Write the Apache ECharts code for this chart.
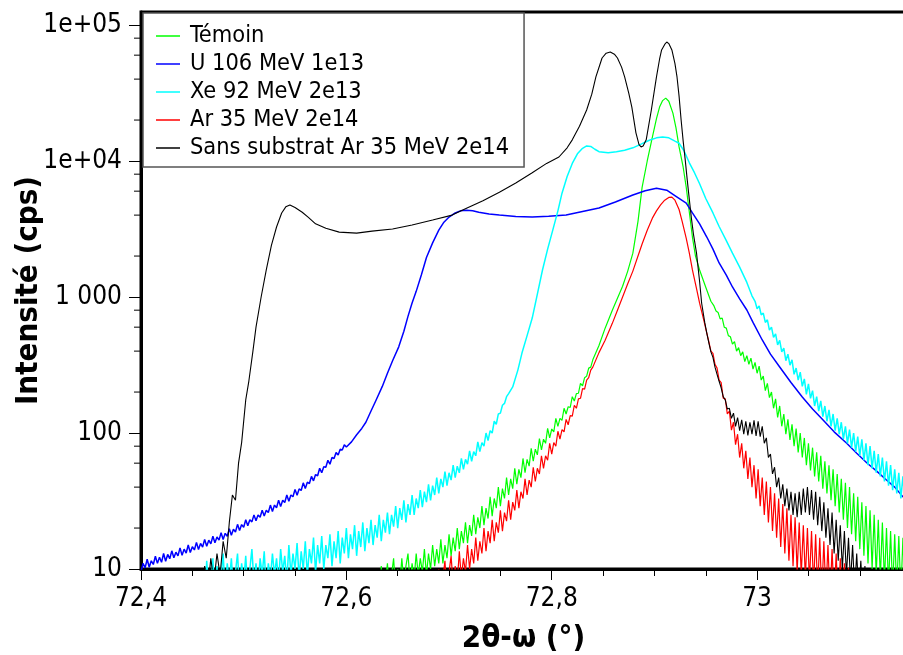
<!DOCTYPE html>
<html><head><meta charset="utf-8">
<script src="https://cdn.jsdelivr.net/npm/echarts@6/dist/echarts.min.js"></script>
<style>html,body{margin:0;padding:0;background:#fff}#chart{width:903px;height:655px}</style>
</head><body><div id="chart"></div>
<script>
const seriesNames = ['Témoin', 'U 106 MeV 1e13', 'Xe 92 MeV 2e13', 'Ar 35 MeV 2e14', 'Sans substrat Ar 35 MeV 2e14'];
const seriesColors = ['#00ff00', '#0000ff', '#00ffff', '#ff0000', '#000000'];
const xTickLabels = ['72,4', '72,6', '72,8', '73'];
const yTickLabels = ['10', '100', '1 000', '1e+04', '1e+05'];
const yMinorTickValues = [20,40,60,80,200,400,600,800,2000,4000,6000,8000,20000,40000,60000,80000];

const temoin = [
[72.632,5],[72.634,10.5],[72.636,6],[72.638,8],[72.640,11],[72.642,6.5],[72.644,9],[72.646,12],[72.648,7],[72.650,10],[72.652,7.5],[72.654,12],[72.656,8],[72.658,10.5],[72.660,13],[72.662,8],[72.664,11],[72.666,8.5],[72.668,13],[72.670,9],[72.672,12],[72.674,9.5],[72.676,14],[72.678,9],[72.680,13],[72.682,10],[72.684,15],[72.686,10.5],[72.688,14],[72.690,11],[72.692,16.5],[72.694,11],[72.696,15],[72.698,12],[72.700,18],[72.702,12.5],[72.704,17],[72.706,13.5],[72.708,20],[72.710,14],[72.712,19],[72.714,15.5],[72.716,22],[72.718,15.5],[72.720,21],[72.722,17.5],[72.724,25],[72.726,18],[72.728,24],[72.730,20],[72.732,29],[72.734,21],[72.736,28],[72.738,23.5],[72.740,34],[72.742,24.5],[72.744,33],[72.746,28],[72.748,40],[72.750,29],[72.752,39],[72.754,33],[72.756,47],[72.758,35],[72.760,46],[72.762,39],[72.764,55],[72.766,42],[72.768,54],[72.770,47],[72.772,65],[72.774,51],[72.776,64],[72.778,57],[72.780,77],[72.782,62],[72.784,76],[72.786,69],[72.788,91],[72.790,75],[72.792,90],[72.794,84],[72.796,108],[72.798,92],[72.800,107],[72.802,102],[72.804,128],[72.806,112],[72.808,128],[72.810,124],[72.812,152],[72.814,138],[72.816,156],[72.818,154],[72.820,185],[72.822,172],[72.824,195],[72.826,196],[72.828,232],[72.830,222],[72.832,255],[72.834,262],[72.836,300],[72.838,305],[72.840,345],
[72.846,440],[72.852,590],[72.859,800],[72.864,980],[72.869,1200],[72.874,1550],[72.879,2100],[72.884,3600],[72.888,6400],[72.893,10000],[72.898,15000],[72.902,20500],[72.905,24900],[72.908,27800],[72.911,29000],[72.914,27500],[72.918,22500],[72.921,17500],[72.924,12700],[72.928,9000],[72.931,6400],[72.934,4200],[72.937,2760],[72.940,2000],[72.944,1580],[72.950,1180],[72.955,930],
[72.958,860],[72.960,790],[72.962,770],[72.964,690],[72.966,700],[72.968,600],[72.970,590],[72.972,520],[72.974,510],[72.976,450],[72.978,470],[72.980,400],[72.982,425],[72.984,370],[72.986,395],[72.988,335],[72.990,370],[72.992,320],[72.994,355],[72.996,295],[72.998,330],[73.000,275],[73.002,310],[73.004,245],[73.006,262],[73.008,205],[73.010,232],[73.012,182],[73.014,200],[73.016,152],[73.018,178],[73.020,130],[73.022,158],[73.024,112],[73.026,138],[73.028,98],[73.030,126],[73.032,89],[73.034,116],[73.036,80],[73.038,108],[73.040,72],[73.042,100],[73.044,66],[73.046,92],[73.048,58],[73.050,84],[73.052,53],[73.054,78],[73.056,48],[73.058,72],[73.060,44],[73.062,68],[73.064,39],[73.066,62],[73.068,36],[73.070,58],[73.072,32],[73.074,54],[73.076,29],[73.078,50],[73.080,26],[73.082,46],[73.084,23],[73.086,43],[73.088,20],[73.090,40],[73.092,18],[73.094,36],[73.096,16],[73.098,34],[73.100,14],[73.102,31],[73.104,12.5],[73.106,29],[73.108,11],[73.110,27],[73.112,10],[73.114,25],[73.116,9],[73.118,23],[73.120,8.5],[73.122,22],[73.124,8],[73.126,20],[73.128,7.5],[73.130,19],[73.132,7],[73.134,18],[73.136,7],[73.138,17.5],[73.140,6.5],[73.142,17],[73.144,6.5],[73.146,16],[73.148,6]
];

const u106 = [
[72.400,9.5],[72.402,11],[72.404,10.2],[72.406,11.8],[72.408,10.3],[72.410,11.5],[72.412,10.8],[72.414,12.4],[72.416,11],[72.418,12.2],[72.420,11.2],[72.422,13],[72.424,11.4],[72.426,12.8],[72.428,11.9],[72.430,13.6],[72.432,12.1],[72.434,13.3],[72.436,12.5],[72.438,14.3],[72.440,12.6],[72.442,14],[72.444,13.1],[72.446,15],[72.448,13.2],[72.450,14.6],[72.452,13.8],[72.454,15.7],[72.456,13.9],[72.458,15.4],[72.460,14.5],[72.462,16.5],[72.464,14.7],[72.466,16.3],[72.468,15.3],[72.470,17.4],[72.472,15.6],[72.474,17.2],[72.476,16.3],[72.478,18.5],[72.480,16.5],[72.482,18.3],[72.484,17.4],[72.486,19.8],[72.488,17.7],[72.490,19.6],[72.492,18.7],[72.494,21.3],[72.496,19.2],[72.498,21.2],[72.500,20.3],[72.502,23],[72.504,20.8],[72.506,23],[72.508,22.2],[72.510,25],[72.512,22.6],[72.514,25],[72.516,24],[72.518,27],[72.520,24.5],[72.522,27],[72.524,26],[72.526,29.5],[72.528,26.5],[72.530,29.5],[72.532,28.2],[72.534,32],[72.536,28.8],[72.538,32],[72.540,30.8],[72.542,35],[72.544,31.5],[72.546,35],[72.548,34],[72.550,38.5],[72.552,34.8],[72.554,38.8],[72.556,37.8],[72.558,43],[72.560,39],[72.562,43.5],[72.564,42.5],[72.566,48],[72.568,44.5],[72.570,49.5],[72.572,48.5],[72.574,55],[72.576,51],[72.578,56.5],[72.580,56],[72.582,63],[72.584,59],[72.586,66],[72.588,65],[72.590,72],[72.592,69],[72.594,76],[72.596,75],[72.598,82],[72.600,79],
[72.605,86],[72.610,97],[72.615,108],[72.619,120],[72.624,145],[72.629,175],[72.635,220],[72.640,275],[72.645,340],[72.651,430],[72.656,560],[72.660,720],[72.664,903],[72.668,1100],[72.673,1450],[72.678,1950],[72.684,2500],[72.690,3100],[72.695,3550],[72.700,3870],[72.706,4150],[72.711,4300],[72.717,4350],[72.723,4300],[72.729,4200],[72.739,4080],[72.749,4000],[72.765,3900],[72.781,3870],[72.797,3920],[72.814,4010],[72.830,4250],[72.846,4510],[72.862,5000],[72.879,5620],[72.891,6050],[72.902,6300],[72.912,6100],[72.921,5500],[72.931,4900],[72.937,4150],[72.944,3450],[72.951,2760],[72.957,2250],[72.963,1780],[72.970,1450],[72.976,1185],[72.983,970],[72.990,802],[72.996,650],[73.005,483],[73.013,380],[73.022,306],[73.033,235],[73.044,184],[73.054,150],[73.064,125],[73.075,102],[73.087,84.4],[73.097,71],[73.107,60.2],[73.117,52],[73.126,45.1],[73.134,40],[73.142,34],[73.148,32]
];

const xe92 = [
[72.458,5],[72.460,9],[72.462,6],[72.464,11.5],[72.466,7],[72.468,8],[72.470,12],[72.472,6],[72.474,10.5],[72.476,7],[72.478,9],[72.480,13],[72.482,6.5],[72.484,11],[72.486,8],[72.488,12],[72.490,7],[72.492,9.5],[72.494,13],[72.496,7],[72.498,11],[72.500,8],[72.502,12.5],[72.504,7],[72.506,10],[72.508,14],[72.510,8],[72.512,11],[72.514,7.5],[72.516,12],[72.518,9],[72.520,13.5],[72.522,7],[72.524,11],[72.526,8.5],[72.528,13],[72.530,9],[72.532,12],[72.534,8],[72.536,14],[72.538,9.5],[72.540,12.5],[72.542,8],[72.544,15],[72.546,9],[72.548,13],[72.550,10],[72.552,15.5],[72.554,8.5],[72.556,13.5],[72.558,10],[72.560,16],[72.562,9],[72.564,14],[72.566,11],[72.568,17],[72.570,9.5],[72.572,15],[72.574,11],[72.576,17.5],[72.578,10],[72.580,15],[72.582,12],[72.584,18],[72.586,10.5],[72.588,16],[72.590,12],[72.592,19],[72.594,11],[72.596,17],[72.598,13],[72.600,20],[72.602,12],[72.604,18],[72.606,14],[72.608,21],[72.610,12.5],[72.612,19],[72.614,14.5],[72.616,22],[72.618,13.5],[72.620,20],[72.622,15.5],[72.624,23],[72.626,15],[72.628,21],[72.630,17],[72.632,25],[72.634,16],[72.636,23],[72.638,18.5],[72.640,26],[72.642,18],[72.644,25],[72.646,20.5],[72.648,29],[72.650,20],[72.652,28],[72.654,23],[72.656,32],[72.658,22],[72.660,30],[72.662,25],[72.664,35],[72.666,25],[72.668,33],[72.670,28],[72.672,38],[72.674,28.5],[72.676,37],[72.678,31],[72.680,42],[72.682,32],[72.684,41],[72.686,35],[72.688,47],[72.690,36],[72.692,46],[72.694,40],[72.696,52],[72.698,41],[72.700,51],[72.702,45],[72.704,58],[72.706,47],[72.708,57],[72.710,51],[72.712,65],[72.714,54],[72.716,64],[72.718,59],[72.720,74],[72.722,62],[72.724,73],[72.726,68],[72.728,86],[72.730,73],[72.732,85],[72.734,80],[72.736,100],[72.738,88],[72.740,104],[72.742,100],[72.744,122],[72.746,116],[72.748,138],[72.750,140],[72.752,160],[72.754,165],[72.756,185],[72.758,195],
[72.762,218],[72.767,290],[72.771,387],[72.776,520],[72.781,700],[72.786,1050],[72.791,1580],[72.796,2250],[72.801,3100],[72.806,4300],[72.810,5800],[72.815,7700],[72.820,9600],[72.825,11300],[72.830,12400],[72.834,12900],[72.838,12800],[72.842,12200],[72.846,11700],[72.855,11500],[72.863,11700],[72.871,12000],[72.879,12500],[72.887,13300],[72.895,14200],[72.902,14800],[72.908,15000],[72.914,14800],[72.920,14000],[72.924,13500],[72.929,11800],[72.934,9700],[72.939,8200],[72.944,6800],[72.950,5300],[72.957,4150],[72.963,3300],[72.970,2600],[72.976,2100],[72.983,1660],[72.990,1280],[72.995,1020],
[72.998,930],[73.000,820],[73.002,860],[73.004,740],[73.006,760],[73.008,650],[73.010,680],[73.012,570],[73.014,600],[73.016,505],[73.018,535],[73.020,445],[73.022,480],[73.024,395],[73.026,420],[73.028,340],[73.030,380],[73.032,315],[73.034,345],[73.036,270],[73.038,300],[73.040,245],[73.042,280],[73.044,220],[73.046,250],[73.048,192],[73.050,230],[73.052,180],[73.054,205],[73.056,158],[73.058,185],[73.060,145],[73.062,172],[73.064,132],[73.066,158],[73.068,122],[73.070,148],[73.072,112],[73.074,138],[73.076,104],[73.078,128],[73.080,98],[73.082,120],[73.084,90],[73.086,112],[73.088,84],[73.090,106],[73.092,78],[73.094,100],[73.096,73],[73.098,94],[73.100,68],[73.102,90],[73.104,63],[73.106,84],[73.108,58],[73.110,80],[73.112,55],[73.114,74],[73.116,51],[73.118,70],[73.120,48],[73.122,66],[73.124,44],[73.126,62],[73.128,41],[73.130,58],[73.132,38],[73.134,54],[73.136,36],[73.138,51],[73.140,33],[73.142,48],[73.144,31],[73.146,45],[73.148,30]
];

const ar35 = [
[72.688,5],[72.690,10],[72.692,6],[72.694,8.5],[72.696,11.5],[72.698,6.5],[72.700,9.5],[72.702,12.5],[72.704,7.5],[72.706,10.5],[72.708,8],[72.710,13.5],[72.712,8.5],[72.714,12],[72.716,9.5],[72.718,15],[72.720,10],[72.722,14],[72.724,11],[72.726,17],[72.728,11.5],[72.730,16],[72.732,13],[72.734,20],[72.736,13.5],[72.738,19],[72.740,15.5],[72.742,23],[72.744,16],[72.746,22],[72.748,18.5],[72.750,27],[72.752,19],[72.754,26],[72.756,22.5],[72.758,32],[72.760,23],[72.762,31],[72.764,27],[72.766,38],[72.768,28],[72.770,37],[72.772,33],[72.774,46],[72.776,35],[72.778,45],[72.780,40],[72.782,56],[72.784,44],[72.786,55],[72.788,50],[72.790,68],[72.792,55],[72.794,68],[72.796,63],[72.798,84],[72.800,70],[72.802,85],[72.804,80],[72.806,103],[72.808,90],[72.810,106],[72.812,102],[72.814,126],[72.816,115],[72.818,134],[72.820,133],[72.822,160],[72.824,152],[72.826,178],[72.828,180],[72.830,212],[72.832,210],[72.834,245],[72.836,255],[72.838,290],[72.840,305],
[72.846,390],[72.852,480],[72.859,640],[72.864,800],[72.869,1000],[72.874,1250],[72.879,1550],[72.884,2000],[72.888,2450],[72.893,3100],[72.898,3800],[72.902,4300],[72.906,4750],[72.910,5150],[72.914,5400],[72.917,5430],[72.920,5150],[72.924,4400],[72.927,3600],[72.931,2700],[72.934,2100],[72.937,1580],[72.941,1150],[72.944,900],[72.948,680],[72.951,543],
[72.953,470],[72.955,400],[72.957,385],[72.959,320],[72.961,300],[72.963,245],[72.965,235],[72.967,180],[72.969,178],[72.971,138],[72.973,145],[72.975,105],[72.977,120],[72.979,82],[72.981,98],[72.983,66],[72.985,84],[72.987,55],[72.989,74],[72.991,46],[72.993,66],[72.995,40],[72.997,58],[72.999,33],[73.001,54],[73.003,29],[73.005,47],[73.007,25],[73.009,44],[73.011,22],[73.013,40],[73.015,19],[73.017,36],[73.019,17],[73.021,33],[73.023,14.5],[73.025,30],[73.027,13],[73.029,28],[73.031,11.5],[73.033,25],[73.035,10.5],[73.037,24],[73.039,9.5],[73.041,22],[73.043,9],[73.045,21],[73.047,8.5],[73.049,20],[73.051,8],[73.053,19],[73.055,7.5],[73.057,18],[73.059,7],[73.061,17],[73.063,6.5],[73.065,16],[73.067,6.5],[73.069,15],[73.071,6],[73.073,14],[73.075,6],[73.077,13],[73.079,5.5],[73.081,12],[73.083,5.5],[73.085,11],[73.087,5],[73.089,10.2],[73.091,5]
];

const sansSubstrat = [
[72.459,6],[72.462,10.5],[72.465,7],[72.468,12],[72.471,8],[72.474,13],[72.477,9],[72.480,16],[72.483,12],[72.486,22],[72.489,35],[72.492,32],[72.495,60],[72.498,85],[72.502,175],[72.505,240],[72.509,400],[72.512,600],[72.517,1000],[72.522,1580],[72.527,2400],[72.532,3270],[72.537,4150],[72.541,4600],[72.545,4750],[72.550,4550],[72.557,4200],[72.563,3850],[72.570,3450],[72.580,3200],[72.593,3000],[72.610,2950],[72.625,3050],[72.645,3160],[72.664,3380],[72.684,3680],[72.703,4000],[72.717,4500],[72.733,5100],[72.749,5900],[72.765,6900],[72.781,8200],[72.795,9600],[72.807,10700],[72.815,12500],[72.820,14300],[72.827,18000],[72.834,23700],[72.839,31000],[72.843,41500],[72.849,57200],[72.853,62000],[72.857,63300],[72.861,61000],[72.864,57200],[72.868,49000],[72.871,41500],[72.875,31500],[72.878,24900],[72.882,16100],[72.885,13200],[72.887,12700],[72.889,12900],[72.892,14300],[72.897,23700],[72.902,41500],[72.905,56000],[72.907,65500],[72.910,72000],[72.912,75000],[72.914,73000],[72.917,65500],[72.920,52000],[72.922,41500],[72.924,30000],[72.926,20000],[72.928,14000],[72.930,10200],[72.932,7200],[72.934,5200],[72.936,3800],[72.938,2900],[72.941,2100],[72.944,1300],[72.946,900],[72.949,650],[72.951,543],
[72.953,460],[72.955,395],[72.957,360],[72.959,305],[72.961,270],[72.963,240],[72.965,215],[72.967,185],[72.969,175],[72.971,150],[72.973,152],[72.975,128],[72.977,140],[72.979,112],[72.981,130],[72.983,104],[72.985,125],[72.987,98],[72.989,122],[72.991,96],[72.993,120],[72.995,98],[72.997,124],[72.999,95],[73.001,122],[73.003,94],[73.005,112],[73.007,84],[73.009,92],[73.011,66],[73.013,70],[73.015,50],[73.017,56],[73.019,40],[73.021,47],[73.023,33],[73.025,42],[73.027,29],[73.029,39],[73.031,27],[73.033,37],[73.035,25],[73.037,36],[73.039,24],[73.041,37],[73.043,25],[73.045,39],[73.047,26],[73.049,40],[73.051,25],[73.053,38],[73.055,23],[73.057,37],[73.059,21],[73.061,34],[73.063,19],[73.065,31],[73.067,17],[73.069,28],[73.071,15],[73.073,26],[73.075,13],[73.077,23],[73.079,11.5],[73.081,21],[73.083,10],[73.085,19],[73.087,9],[73.089,17],[73.091,8],[73.093,15],[73.095,7],[73.097,13],[73.099,6.5],[73.101,11.5],[73.103,6],[73.105,10.5],[73.107,5.5],[73.109,9.5],[73.111,5],[73.113,8],[73.115,5]
];

const seriesData = [temoin, u106, xe92, ar35, sansSubstrat];

const FONT = "'DejaVu Sans Condensed', 'Noto Sans', sans-serif";
const X_MIN = 72.4, X_MAX = 73.145, Y_MIN = 10, Y_MAX = 124600;
const LINE_WIDTHS = [1.2, 1.5, 1.5, 1.2, 1.1];

const chart = echarts.init(document.getElementById('chart'), null, {renderer: 'canvas'});

const lineSeries = seriesNames.map((name, i) => ({
  name, type: 'line', data: seriesData[i], showSymbol: false, symbol: 'none',
  smooth: false, clip: true, animation: false,
  lineStyle: {color: seriesColors[i], width: LINE_WIDTHS[i]},
  itemStyle: {color: seriesColors[i]}
}));

const minorTickSeries = {
  type: 'custom', silent: true, clip: false, animation: false, z: 10,
  data: yMinorTickValues.map(v => [X_MIN, v]),
  renderItem: (params, api) => {
    const p = api.coord([api.value(0), api.value(1)]);
    return {type: 'line', shape: {x1: p[0] - 7, y1: p[1], x2: p[0], y2: p[1]}, style: {stroke: '#000', lineWidth: 1}};
  }
};

chart.setOption({
  animation: false,
  backgroundColor: '#fff',
  grid: {left: 141, top: 12, right: -3, bottom: 86, containLabel: false, outerBoundsMode: 'none',
         show: true, borderColor: '#000', borderWidth: 3, backgroundColor: 'transparent'},
  legend: {
    data: seriesNames, orient: 'vertical', left: 143, top: 13,
    padding: [9, 15, 5, 13], itemGap: 0, itemWidth: 24, itemHeight: 28,
    icon: 'path://M0,0H24V1.5H0Z', selectedMode: false,
    backgroundColor: '#fff', borderColor: '#555', borderWidth: 1.5,
    textStyle: {fontFamily: FONT, fontSize: 23.4, lineHeight: 28, color: '#000', padding: [0, 0, 0, 5]}
  },
  xAxis: [{
    type: 'value', min: X_MIN, max: X_MAX, interval: 0.2, position: 'bottom',
    name: '2θ-ω (°)', nameLocation: 'middle', nameGap: 54, nameMoveOverlap: false,
    nameTextStyle: {fontFamily: FONT, fontSize: 31, fontWeight: 'bold', color: '#000'},
    axisLine: {show: true, lineStyle: {color: '#000', width: 3}},
    axisTick: {show: true, length: 11, lineStyle: {color: '#000', width: 1}},
    axisLabel: {
      show: true, margin: 17, showMaxLabel: false, fontFamily: FONT, fontSize: 26, color: '#000',
      formatter: v => { const i = Math.round((v - X_MIN) / 0.2); return Math.abs(v - (X_MIN + i * 0.2)) < 1e-6 ? (xTickLabels[i] || '') : ''; }
    },
    splitLine: {show: false}
  }, {
    type: 'value', min: X_MIN, max: X_MAX, interval: 0.05, position: 'bottom', gridIndex: 0,
    axisLine: {show: false}, axisLabel: {show: false}, splitLine: {show: false},
    axisTick: {show: true, length: 7, lineStyle: {color: '#000', width: 1}}
  }],
  yAxis: {
    type: 'log', logBase: 10, min: Y_MIN, max: Y_MAX,
    name: 'Intensité (cps)', nameLocation: 'middle', nameGap: 97, nameRotate: 90, nameMoveOverlap: false,
    nameTextStyle: {fontFamily: FONT, fontSize: 31, fontWeight: 'bold', color: '#000'},
    axisLine: {show: true, lineStyle: {color: '#000', width: 3}},
    axisTick: {show: true, length: 12, lineStyle: {color: '#000', width: 1}},
    axisLabel: {
      show: true, margin: 19, showMaxLabel: false, fontFamily: FONT, fontSize: 26, color: '#000',
      formatter: v => { const l = Math.log10(v); const e = Math.round(l); return Math.abs(l - e) < 1e-6 ? (yTickLabels[e - 1] || '') : ''; }
    },
    splitLine: {show: false}
  },
  series: [...lineSeries, minorTickSeries]
});
</script></body></html>
